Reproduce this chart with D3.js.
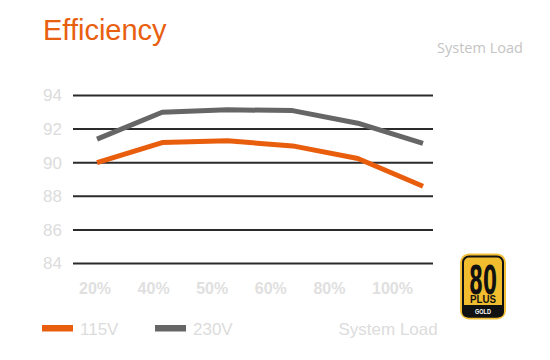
<!DOCTYPE html>
<html><head><meta charset="utf-8">
<script src="https://cdn.jsdelivr.net/npm/d3@7"></script>
<style>html,body{margin:0;padding:0;background:#fff}svg{display:block}</style>
</head><body>
<script>
const categories = ["20%", "40%", "50%", "60%", "80%", "100%"];
const v115 = [90.0, 91.2, 91.3, 91.0, 90.25, 88.6];
const v230 = [91.4, 93.0, 93.15, 93.1, 92.35, 91.15];
const yTicks = [84, 86, 88, 90, 92, 94];
const seriesNames = ["115V", "230V"];
const seriesColors = ["#e95e0c", "#666666"];

const W = 550, H = 360;
const svg = d3.select("body").append("svg").attr("width", W).attr("height", H);
const font = "'Liberation Sans', Arial, sans-serif";

const y = d3.scaleLinear().domain([84, 94]).range([263.5, 95.5]);
const xLine = d3.scalePoint().domain(categories).range([97, 423]);
const xLab = d3.scalePoint().domain(categories).range([79, 372]);

// title
svg.append("text").attr("x", 43).attr("y", 40).text("Efficiency")
  .attr("font-family", font).attr("font-size", 29).attr("fill", "#e8600f");
svg.append("text").attr("x", 437).attr("y", 52.5).text("System Load")
  .attr("font-family", "'Open Sans', sans-serif").attr("font-size", 14.5).attr("fill", "#c4c4c4");

// grid
svg.append("g").selectAll("line").data(yTicks).join("line")
  .attr("x1", 73).attr("x2", 433)
  .attr("y1", d => y(d)).attr("y2", d => y(d))
  .attr("stroke", "#2b2b2b").attr("stroke-width", 2);

// y labels
svg.append("g").selectAll("text").data(yTicks).join("text")
  .attr("x", 62).attr("y", d => y(d)).attr("dy", "0.35em")
  .attr("text-anchor", "end").text(d => d)
  .attr("font-family", font).attr("font-size", 17).attr("fill", "#dcdcdc");

// x labels
svg.append("g").selectAll("text").data(categories).join("text")
  .attr("x", d => xLab(d)).attr("y", 293.5).text(d => d)
  .attr("font-family", font).attr("font-size", 16).attr("font-weight", "bold")
  .attr("fill", "#e0e0e0");

// lines
const line = d3.line().x((d, i) => xLine(categories[i])).y(d => y(d));
[v230, v115].forEach((vals, k) => {
  const c = k === 0 ? seriesColors[1] : seriesColors[0];
  svg.append("path").datum(vals).attr("d", line)
    .attr("fill", "none").attr("stroke", c).attr("stroke-width", 5)
    .attr("stroke-linejoin", "round");
});

// legend
const legX = [42, 155];
seriesNames.forEach((n, i) => {
  svg.append("rect").attr("x", legX[i]).attr("y", 325).attr("width", 31).attr("height", 6.5)
    .attr("fill", seriesColors[i]);
  svg.append("text").attr("x", legX[i] + 38).attr("y", 334.5).text(n)
    .attr("font-family", font).attr("font-size", 17).attr("fill", "#dcdcdc");
});
svg.append("text").attr("x", 338.5).attr("y", 334.5).text("System Load")
  .attr("font-family", font).attr("font-size", 17).attr("fill", "#dcdcdc");

// 80 PLUS GOLD badge
const b = svg.append("g");
b.append("rect").attr("x", 460).attr("y", 253.5).attr("width", 46).attr("height", 66)
  .attr("rx", 9).attr("fill", "#f3c03a");
b.append("rect").attr("x", 463).attr("y", 256.5).attr("width", 40).attr("height", 60)
  .attr("rx", 6).attr("fill", "#f1bd2f").attr("stroke", "#111").attr("stroke-width", 2);
b.append("path").attr("d", "M462,305 H504 V311 Q504,317.5 497.5,317.5 H468.5 Q462,317.5 462,311 Z")
  .attr("fill", "#111");
b.append("text").attr("x", 483).attr("y", 293.5).attr("text-anchor", "middle").text("80")
  .attr("font-family", "'Liberation Sans Narrow','DejaVu Sans Condensed',sans-serif")
  .attr("font-weight", "bold")
  .attr("font-size", 39).attr("fill", "#111")
  .attr("textLength", 28).attr("lengthAdjust", "spacingAndGlyphs");
b.append("text").attr("x", 483).attr("y", 303).attr("text-anchor", "middle").text("PLUS")
  .attr("font-family", font).attr("font-weight", "bold")
  .attr("font-size", 10).attr("fill", "#111")
  .attr("textLength", 26).attr("lengthAdjust", "spacingAndGlyphs");
b.append("text").attr("x", 483).attr("y", 314).attr("text-anchor", "middle").text("GOLD")
  .attr("font-family", font).attr("font-weight", "bold")
  .attr("font-size", 7).attr("fill", "#fff")
  .attr("textLength", 16).attr("lengthAdjust", "spacingAndGlyphs");
</script>
</body></html>
